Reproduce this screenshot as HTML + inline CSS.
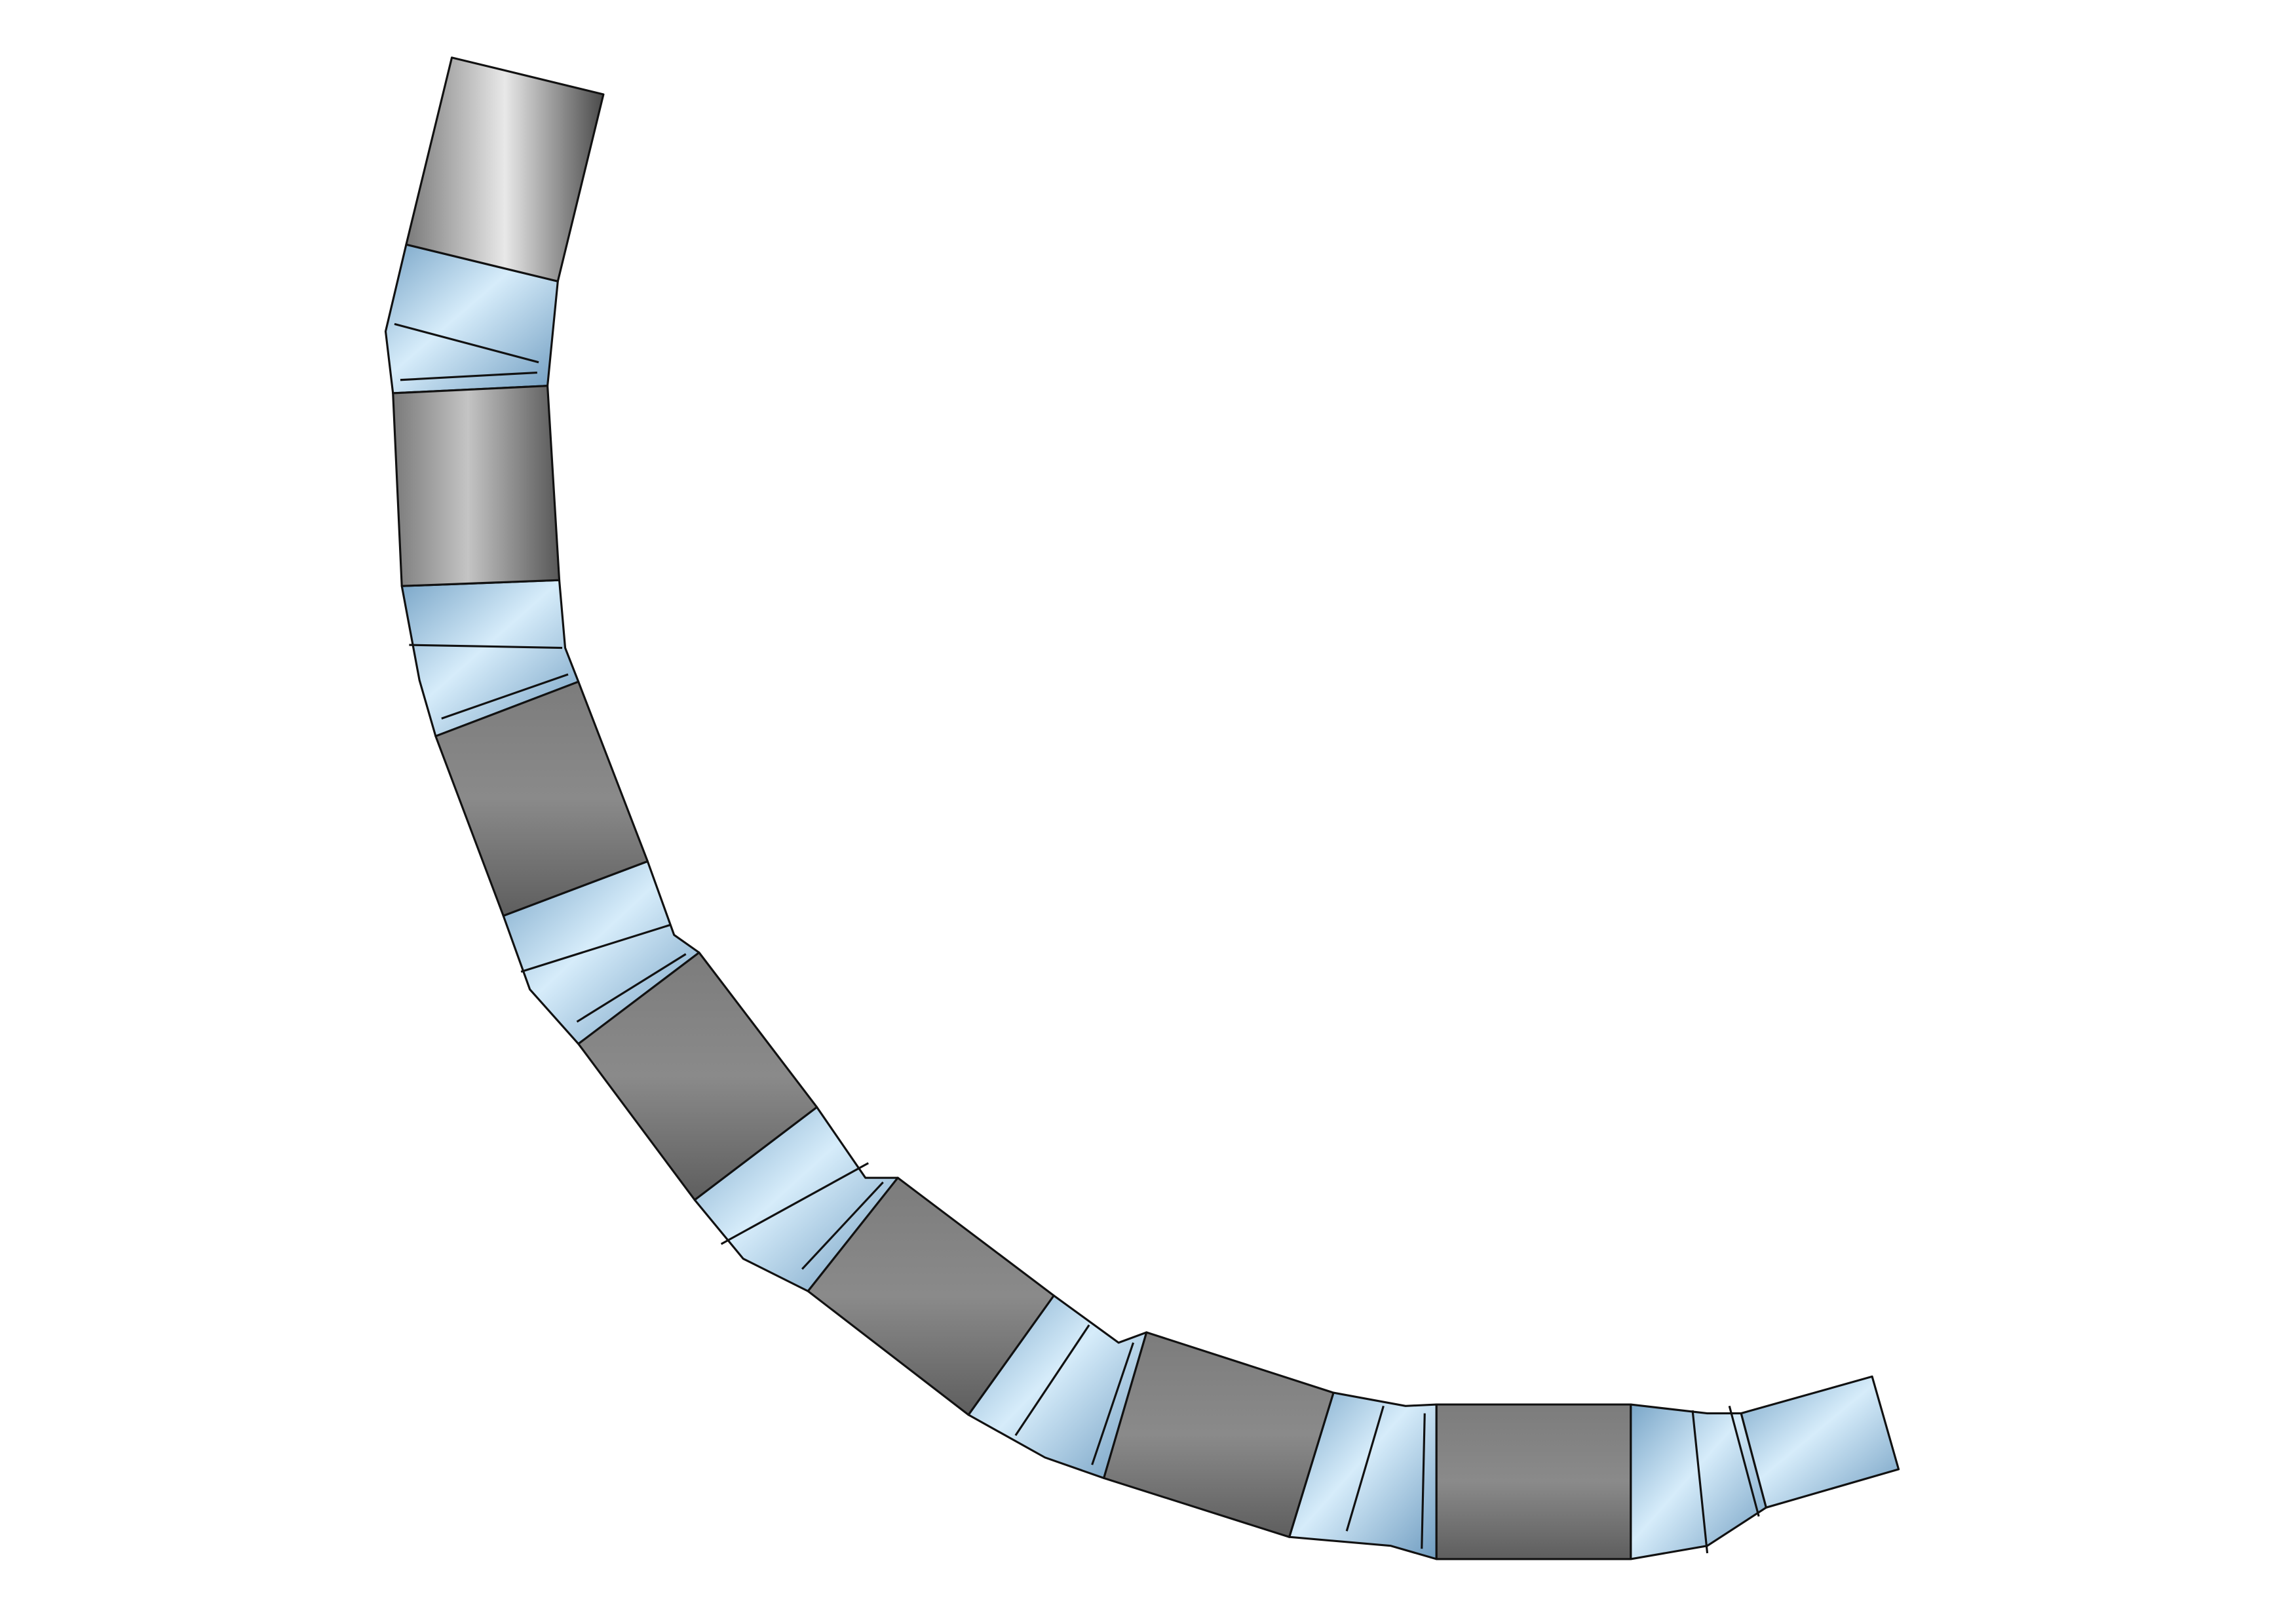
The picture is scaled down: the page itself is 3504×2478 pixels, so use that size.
<!DOCTYPE html>
<html><head><meta charset="utf-8"><style>
html,body{margin:0;padding:0;background:#fff;}
svg{display:block;}
</style></head>
<body>
<svg width="3504" height="2478" viewBox="0 0 1560 1103" xmlns="http://www.w3.org/2000/svg">
<defs>
<linearGradient id="g1" x1="0" y1="0" x2="1" y2="0">
<stop offset="0" stop-color="#7a7a7a"/><stop offset="0.5" stop-color="#e8e8e8"/><stop offset="1" stop-color="#4a4a4a"/>
</linearGradient>
<linearGradient id="g2" x1="0" y1="0" x2="1" y2="0">
<stop offset="0" stop-color="#7a7a7a"/><stop offset="0.45" stop-color="#c4c4c4"/><stop offset="1" stop-color="#575757"/>
</linearGradient>
<linearGradient id="gm" x1="0" y1="0" x2="0" y2="1">
<stop offset="0" stop-color="#7c7c7c"/><stop offset="0.5" stop-color="#8a8a8a"/><stop offset="1" stop-color="#5e5e5e"/>
</linearGradient>
<linearGradient id="gb" x1="0" y1="0" x2="1" y2="1">
<stop offset="0" stop-color="#7aa6c8"/><stop offset="0.45" stop-color="#d6ecfa"/><stop offset="1" stop-color="#6f9cc0"/>
</linearGradient>
</defs>
<g stroke="#111" stroke-width="1.4" stroke-linejoin="round">
<!-- joints -->
<polygon fill="url(#gb)" points="276,166 379,191 372,262 267,267 262,225"/>
<line x1="268" y1="220" x2="366" y2="246"/><line x1="272" y1="258" x2="365" y2="253"/>
<polygon fill="url(#gb)" points="380,394 384,440 393,463 296,500 285,462 273,398"/>
<line x1="278" y1="438" x2="382" y2="440"/><line x1="300" y1="488" x2="386" y2="458"/>
<polygon fill="url(#gb)" points="440,585 458,635 475,647 393,709 360,672 342,622"/>
<line x1="354" y1="660" x2="456" y2="628"/><line x1="392" y1="694" x2="466" y2="648"/>
<polygon fill="url(#gb)" points="555,752 588,800 610,800 549,877 505,855 472,815"/>
<line x1="490" y1="845" x2="590" y2="790"/><line x1="545" y1="862" x2="600" y2="803"/>
<polygon fill="url(#gb)" points="716,880 760,912 779,905 750,1004 710,990 658,961"/>
<line x1="690" y1="975" x2="740" y2="900"/><line x1="742" y1="995" x2="770" y2="912"/>
<polygon fill="url(#gb)" points="906,946 955,955 976,954 976,1059 945,1050 876,1044"/>
<line x1="915" y1="1040" x2="940" y2="955"/><line x1="966" y1="1052" x2="968" y2="960"/>
<polygon fill="url(#gb)" points="1108,954 1160,960 1183,960 1200,1024 1160,1050 1108,1059"/>
<line x1="1150" y1="958" x2="1160" y2="1055"/><line x1="1175" y1="955" x2="1195" y2="1030"/>
<!-- end tube -->
<polygon fill="url(#gb)" points="1183,960 1272,935 1290,998 1200,1024"/>
<!-- gray segments -->
<polygon fill="url(#g1)" points="307,39 410,64 379,191 276,166"/>
<polygon fill="url(#g2)" points="267,267 372,262 380,394 273,398"/>
<polygon fill="url(#gm)" points="296,500 393,463 440,585 342,622"/>
<polygon fill="url(#gm)" points="393,709 475,647 555,752 472,815"/>
<polygon fill="url(#gm)" points="549,877 610,800 716,880 658,961"/>
<polygon fill="url(#gm)" points="779,905 906,946 876,1044 750,1004"/>
<polygon fill="url(#gm)" points="976,954 1108,954 1108,1059 976,1059"/>
</g>
</svg>
</body></html>
